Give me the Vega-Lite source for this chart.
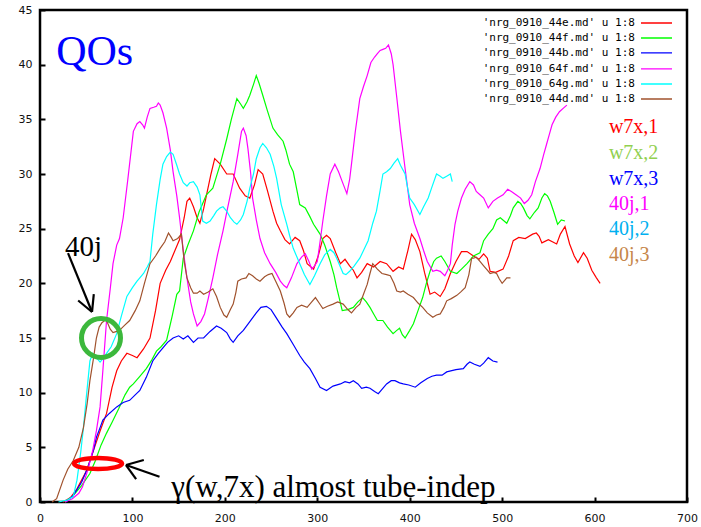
{
"$schema": "https://vega.github.io/schema/vega-lite/v6.json",
"width": 647, "height": 492,
"autosize": {"type": "none"},
"padding": {"left": 40, "top": 10, "right": 14, "bottom": 25},
"background": "white",
"config": {
  "view": {"stroke": "black", "strokeWidth": 2.5},
  "axis": {"domain": false, "grid": false, "ticks": true, "tickSize": -5, "tickWidth": 2, "tickColor": "black", "labelFont": "DejaVu Sans", "labelFontSize": 11, "labelColor": "#111111", "labelFlush": false, "labelOverlap": false}
},
"layer": [
  {
    "data": {"values": [
{"s":"nrg_0910_44e.md","x":25,"y":0},{"s":"nrg_0910_44e.md","x":33,"y":0.4},{"s":"nrg_0910_44e.md","x":40,"y":1.2},{"s":"nrg_0910_44e.md","x":50,"y":2.8},{"s":"nrg_0910_44e.md","x":57,"y":4.5},{"s":"nrg_0910_44e.md","x":65,"y":6.5},{"s":"nrg_0910_44e.md","x":72,"y":8.1},{"s":"nrg_0910_44e.md","x":78,"y":10.5},{"s":"nrg_0910_44e.md","x":83,"y":12},{"s":"nrg_0910_44e.md","x":88,"y":12.9},{"s":"nrg_0910_44e.md","x":94,"y":13.6},{"s":"nrg_0910_44e.md","x":100,"y":13.4},{"s":"nrg_0910_44e.md","x":105,"y":13.2},{"s":"nrg_0910_44e.md","x":112,"y":14},{"s":"nrg_0910_44e.md","x":119,"y":15},{"s":"nrg_0910_44e.md","x":125,"y":17.5},{"s":"nrg_0910_44e.md","x":130,"y":20},{"s":"nrg_0910_44e.md","x":136,"y":21.2},{"s":"nrg_0910_44e.md","x":141,"y":22},{"s":"nrg_0910_44e.md","x":146,"y":23},{"s":"nrg_0910_44e.md","x":151,"y":24},{"s":"nrg_0910_44e.md","x":156,"y":26},{"s":"nrg_0910_44e.md","x":159,"y":27.5},{"s":"nrg_0910_44e.md","x":162,"y":27.8},{"s":"nrg_0910_44e.md","x":166,"y":27},{"s":"nrg_0910_44e.md","x":170,"y":26},{"s":"nrg_0910_44e.md","x":173,"y":25.5},{"s":"nrg_0910_44e.md","x":177,"y":26.8},{"s":"nrg_0910_44e.md","x":181,"y":28.4},{"s":"nrg_0910_44e.md","x":185,"y":30},{"s":"nrg_0910_44e.md","x":189,"y":31.4},{"s":"nrg_0910_44e.md","x":195,"y":30.9},{"s":"nrg_0910_44e.md","x":202,"y":30},{"s":"nrg_0910_44e.md","x":209,"y":30},{"s":"nrg_0910_44e.md","x":216,"y":28.7},{"s":"nrg_0910_44e.md","x":222,"y":28},{"s":"nrg_0910_44e.md","x":227,"y":27.8},{"s":"nrg_0910_44e.md","x":232,"y":29},{"s":"nrg_0910_44e.md","x":236,"y":30.4},{"s":"nrg_0910_44e.md","x":241,"y":30},{"s":"nrg_0910_44e.md","x":246,"y":28.5},{"s":"nrg_0910_44e.md","x":252,"y":26.6},{"s":"nrg_0910_44e.md","x":256,"y":25.5},{"s":"nrg_0910_44e.md","x":260,"y":24.8},{"s":"nrg_0910_44e.md","x":265,"y":24},{"s":"nrg_0910_44e.md","x":270,"y":23.6},{"s":"nrg_0910_44e.md","x":276,"y":24.2},{"s":"nrg_0910_44e.md","x":281,"y":23.9},{"s":"nrg_0910_44e.md","x":285,"y":23},{"s":"nrg_0910_44e.md","x":289,"y":21.8},{"s":"nrg_0910_44e.md","x":296,"y":21.3},{"s":"nrg_0910_44e.md","x":301,"y":22.5},{"s":"nrg_0910_44e.md","x":306,"y":24.1},{"s":"nrg_0910_44e.md","x":310,"y":24.4},{"s":"nrg_0910_44e.md","x":314,"y":24.1},{"s":"nrg_0910_44e.md","x":320,"y":22.8},{"s":"nrg_0910_44e.md","x":325,"y":21.8},{"s":"nrg_0910_44e.md","x":330,"y":22.2},{"s":"nrg_0910_44e.md","x":335,"y":21.6},{"s":"nrg_0910_44e.md","x":339,"y":21.2},{"s":"nrg_0910_44e.md","x":343,"y":20.5},{"s":"nrg_0910_44e.md","x":348,"y":21},{"s":"nrg_0910_44e.md","x":354,"y":21.8},{"s":"nrg_0910_44e.md","x":361,"y":21.5},{"s":"nrg_0910_44e.md","x":368,"y":22},{"s":"nrg_0910_44e.md","x":375,"y":21.8},{"s":"nrg_0910_44e.md","x":382,"y":21.1},{"s":"nrg_0910_44e.md","x":388,"y":21.5},{"s":"nrg_0910_44e.md","x":393,"y":21.3},{"s":"nrg_0910_44e.md","x":398,"y":23},{"s":"nrg_0910_44e.md","x":402,"y":24.5},{"s":"nrg_0910_44e.md","x":406,"y":24},{"s":"nrg_0910_44e.md","x":411,"y":22.9},{"s":"nrg_0910_44e.md","x":416,"y":21},{"s":"nrg_0910_44e.md","x":422,"y":19},{"s":"nrg_0910_44e.md","x":427,"y":19.2},{"s":"nrg_0910_44e.md","x":433,"y":18.8},{"s":"nrg_0910_44e.md","x":438,"y":19.5},{"s":"nrg_0910_44e.md","x":444,"y":20.9},{"s":"nrg_0910_44e.md","x":450,"y":22},{"s":"nrg_0910_44e.md","x":456,"y":22.9},{"s":"nrg_0910_44e.md","x":462,"y":22.9},{"s":"nrg_0910_44e.md","x":469,"y":22.5},{"s":"nrg_0910_44e.md","x":475,"y":22.2},{"s":"nrg_0910_44e.md","x":480,"y":22.7},{"s":"nrg_0910_44e.md","x":484,"y":22.3},{"s":"nrg_0910_44e.md","x":487,"y":21.1},{"s":"nrg_0910_44e.md","x":493,"y":21},{"s":"nrg_0910_44e.md","x":501,"y":21.3},{"s":"nrg_0910_44e.md","x":507,"y":22.5},{"s":"nrg_0910_44e.md","x":512,"y":23.9},{"s":"nrg_0910_44e.md","x":518,"y":24.2},{"s":"nrg_0910_44e.md","x":525,"y":24.1},{"s":"nrg_0910_44e.md","x":533,"y":24.5},{"s":"nrg_0910_44e.md","x":537,"y":24.6},{"s":"nrg_0910_44e.md","x":540,"y":24.3},{"s":"nrg_0910_44e.md","x":543,"y":23.7},{"s":"nrg_0910_44e.md","x":550,"y":24},{"s":"nrg_0910_44e.md","x":559,"y":23.6},{"s":"nrg_0910_44e.md","x":563,"y":24.5},{"s":"nrg_0910_44e.md","x":568,"y":25.2},{"s":"nrg_0910_44e.md","x":573,"y":23.6},{"s":"nrg_0910_44e.md","x":578,"y":22.5},{"s":"nrg_0910_44e.md","x":582,"y":21.9},{"s":"nrg_0910_44e.md","x":588,"y":22.8},{"s":"nrg_0910_44e.md","x":592,"y":22.3},{"s":"nrg_0910_44e.md","x":597,"y":21.2},{"s":"nrg_0910_44e.md","x":602,"y":20.5},{"s":"nrg_0910_44e.md","x":606,"y":20},
{"s":"nrg_0910_44f.md","x":27,"y":0},{"s":"nrg_0910_44f.md","x":35,"y":0.5},{"s":"nrg_0910_44f.md","x":45,"y":1.5},{"s":"nrg_0910_44f.md","x":54,"y":2.6},{"s":"nrg_0910_44f.md","x":60,"y":3.8},{"s":"nrg_0910_44f.md","x":66,"y":5.2},{"s":"nrg_0910_44f.md","x":72,"y":6.3},{"s":"nrg_0910_44f.md","x":78,"y":7.3},{"s":"nrg_0910_44f.md","x":85,"y":8.5},{"s":"nrg_0910_44f.md","x":92,"y":9.8},{"s":"nrg_0910_44f.md","x":97,"y":10.5},{"s":"nrg_0910_44f.md","x":101,"y":10.8},{"s":"nrg_0910_44f.md","x":108,"y":11.5},{"s":"nrg_0910_44f.md","x":115,"y":12.2},{"s":"nrg_0910_44f.md","x":121,"y":13},{"s":"nrg_0910_44f.md","x":126,"y":13.8},{"s":"nrg_0910_44f.md","x":131,"y":14.2},{"s":"nrg_0910_44f.md","x":137,"y":14.8},{"s":"nrg_0910_44f.md","x":143,"y":17},{"s":"nrg_0910_44f.md","x":148,"y":19},{"s":"nrg_0910_44f.md","x":151,"y":19.3},{"s":"nrg_0910_44f.md","x":155,"y":22.3},{"s":"nrg_0910_44f.md","x":160,"y":23.5},{"s":"nrg_0910_44f.md","x":166,"y":24.8},{"s":"nrg_0910_44f.md","x":172,"y":26.5},{"s":"nrg_0910_44f.md","x":180,"y":28.1},{"s":"nrg_0910_44f.md","x":187,"y":28.7},{"s":"nrg_0910_44f.md","x":191,"y":29.8},{"s":"nrg_0910_44f.md","x":195,"y":30.9},{"s":"nrg_0910_44f.md","x":202,"y":33.2},{"s":"nrg_0910_44f.md","x":207,"y":35},{"s":"nrg_0910_44f.md","x":213,"y":36.9},{"s":"nrg_0910_44f.md","x":217,"y":36.4},{"s":"nrg_0910_44f.md","x":220,"y":36},{"s":"nrg_0910_44f.md","x":224,"y":36.6},{"s":"nrg_0910_44f.md","x":227,"y":37.2},{"s":"nrg_0910_44f.md","x":231,"y":38.2},{"s":"nrg_0910_44f.md","x":234,"y":39},{"s":"nrg_0910_44f.md","x":237,"y":38.3},{"s":"nrg_0910_44f.md","x":241,"y":37.2},{"s":"nrg_0910_44f.md","x":246,"y":35.8},{"s":"nrg_0910_44f.md","x":252,"y":34.2},{"s":"nrg_0910_44f.md","x":257,"y":33.6},{"s":"nrg_0910_44f.md","x":263,"y":33},{"s":"nrg_0910_44f.md","x":266,"y":32.2},{"s":"nrg_0910_44f.md","x":270,"y":30.9},{"s":"nrg_0910_44f.md","x":274,"y":30.2},{"s":"nrg_0910_44f.md","x":278,"y":28.5},{"s":"nrg_0910_44f.md","x":281,"y":27.2},{"s":"nrg_0910_44f.md","x":287,"y":26.9},{"s":"nrg_0910_44f.md","x":292,"y":26.1},{"s":"nrg_0910_44f.md","x":296,"y":25.4},{"s":"nrg_0910_44f.md","x":303,"y":24.5},{"s":"nrg_0910_44f.md","x":308,"y":23.5},{"s":"nrg_0910_44f.md","x":314,"y":22},{"s":"nrg_0910_44f.md","x":318,"y":20.8},{"s":"nrg_0910_44f.md","x":321,"y":19.6},{"s":"nrg_0910_44f.md","x":327,"y":17.5},{"s":"nrg_0910_44f.md","x":333,"y":17.6},{"s":"nrg_0910_44f.md","x":339,"y":17.8},{"s":"nrg_0910_44f.md","x":344,"y":18.3},{"s":"nrg_0910_44f.md","x":349,"y":18.7},{"s":"nrg_0910_44f.md","x":353,"y":18.3},{"s":"nrg_0910_44f.md","x":357,"y":17.8},{"s":"nrg_0910_44f.md","x":361,"y":17.2},{"s":"nrg_0910_44f.md","x":365,"y":16.6},{"s":"nrg_0910_44f.md","x":371,"y":16.6},{"s":"nrg_0910_44f.md","x":376,"y":16},{"s":"nrg_0910_44f.md","x":382,"y":15.4},{"s":"nrg_0910_44f.md","x":386,"y":15.7},{"s":"nrg_0910_44f.md","x":389,"y":15.9},{"s":"nrg_0910_44f.md","x":392,"y":15.3},{"s":"nrg_0910_44f.md","x":395,"y":15},{"s":"nrg_0910_44f.md","x":400,"y":15.7},{"s":"nrg_0910_44f.md","x":404,"y":16.3},{"s":"nrg_0910_44f.md","x":409,"y":17.5},{"s":"nrg_0910_44f.md","x":414,"y":18.7},{"s":"nrg_0910_44f.md","x":418,"y":20},{"s":"nrg_0910_44f.md","x":422,"y":21.1},{"s":"nrg_0910_44f.md","x":426,"y":22},{"s":"nrg_0910_44f.md","x":429,"y":22.3},{"s":"nrg_0910_44f.md","x":434,"y":22.5},{"s":"nrg_0910_44f.md","x":438,"y":22},{"s":"nrg_0910_44f.md","x":444,"y":21.1},{"s":"nrg_0910_44f.md","x":451,"y":20.9},{"s":"nrg_0910_44f.md","x":456,"y":21.3},{"s":"nrg_0910_44f.md","x":462,"y":21.8},{"s":"nrg_0910_44f.md","x":469,"y":22.5},{"s":"nrg_0910_44f.md","x":476,"y":22.8},{"s":"nrg_0910_44f.md","x":480,"y":23.9},{"s":"nrg_0910_44f.md","x":485,"y":24.5},{"s":"nrg_0910_44f.md","x":490,"y":25},{"s":"nrg_0910_44f.md","x":494,"y":25.8},{"s":"nrg_0910_44f.md","x":498,"y":26},{"s":"nrg_0910_44f.md","x":505,"y":25.5},{"s":"nrg_0910_44f.md","x":509,"y":26.2},{"s":"nrg_0910_44f.md","x":512,"y":26.9},{"s":"nrg_0910_44f.md","x":517,"y":27.5},{"s":"nrg_0910_44f.md","x":520,"y":27.3},{"s":"nrg_0910_44f.md","x":523,"y":26.9},{"s":"nrg_0910_44f.md","x":527,"y":26.2},{"s":"nrg_0910_44f.md","x":530,"y":25.9},{"s":"nrg_0910_44f.md","x":535,"y":26.5},{"s":"nrg_0910_44f.md","x":539,"y":26.9},{"s":"nrg_0910_44f.md","x":543,"y":27.8},{"s":"nrg_0910_44f.md","x":546,"y":28.2},{"s":"nrg_0910_44f.md","x":549,"y":28},{"s":"nrg_0910_44f.md","x":552,"y":27.5},{"s":"nrg_0910_44f.md","x":556,"y":26.5},{"s":"nrg_0910_44f.md","x":560,"y":25.4},{"s":"nrg_0910_44f.md","x":564,"y":25.8},{"s":"nrg_0910_44f.md","x":568,"y":25.7},
{"s":"nrg_0910_44b.md","x":28,"y":0},{"s":"nrg_0910_44b.md","x":36,"y":0.6},{"s":"nrg_0910_44b.md","x":45,"y":1.8},{"s":"nrg_0910_44b.md","x":52,"y":3.2},{"s":"nrg_0910_44b.md","x":58,"y":4.8},{"s":"nrg_0910_44b.md","x":61,"y":5.9},{"s":"nrg_0910_44b.md","x":65,"y":6.8},{"s":"nrg_0910_44b.md","x":68,"y":7.5},{"s":"nrg_0910_44b.md","x":75,"y":8.1},{"s":"nrg_0910_44b.md","x":83,"y":8.7},{"s":"nrg_0910_44b.md","x":90,"y":9.1},{"s":"nrg_0910_44b.md","x":97,"y":9.3},{"s":"nrg_0910_44b.md","x":103,"y":9.8},{"s":"nrg_0910_44b.md","x":108,"y":10.2},{"s":"nrg_0910_44b.md","x":115,"y":11.4},{"s":"nrg_0910_44b.md","x":122,"y":12.9},{"s":"nrg_0910_44b.md","x":128,"y":13.6},{"s":"nrg_0910_44b.md","x":133,"y":14.1},{"s":"nrg_0910_44b.md","x":138,"y":14.6},{"s":"nrg_0910_44b.md","x":144,"y":15},{"s":"nrg_0910_44b.md","x":150,"y":15.2},{"s":"nrg_0910_44b.md","x":155,"y":14.9},{"s":"nrg_0910_44b.md","x":160,"y":15.2},{"s":"nrg_0910_44b.md","x":166,"y":14.6},{"s":"nrg_0910_44b.md","x":171,"y":15},{"s":"nrg_0910_44b.md","x":177,"y":15},{"s":"nrg_0910_44b.md","x":184,"y":15.6},{"s":"nrg_0910_44b.md","x":191,"y":16.1},{"s":"nrg_0910_44b.md","x":196,"y":15.9},{"s":"nrg_0910_44b.md","x":202,"y":15.5},{"s":"nrg_0910_44b.md","x":206,"y":14.9},{"s":"nrg_0910_44b.md","x":209,"y":14.6},{"s":"nrg_0910_44b.md","x":214,"y":15.2},{"s":"nrg_0910_44b.md","x":220,"y":15.7},{"s":"nrg_0910_44b.md","x":227,"y":16.5},{"s":"nrg_0910_44b.md","x":234,"y":17.3},{"s":"nrg_0910_44b.md","x":239,"y":17.8},{"s":"nrg_0910_44b.md","x":245,"y":17.9},{"s":"nrg_0910_44b.md","x":250,"y":17.6},{"s":"nrg_0910_44b.md","x":256,"y":16.8},{"s":"nrg_0910_44b.md","x":262,"y":16},{"s":"nrg_0910_44b.md","x":267,"y":15.4},{"s":"nrg_0910_44b.md","x":274,"y":14.4},{"s":"nrg_0910_44b.md","x":281,"y":13.4},{"s":"nrg_0910_44b.md","x":286,"y":12.8},{"s":"nrg_0910_44b.md","x":292,"y":12.2},{"s":"nrg_0910_44b.md","x":298,"y":11.3},{"s":"nrg_0910_44b.md","x":303,"y":10.5},{"s":"nrg_0910_44b.md","x":310,"y":10.2},{"s":"nrg_0910_44b.md","x":317,"y":10.6},{"s":"nrg_0910_44b.md","x":325,"y":10.8},{"s":"nrg_0910_44b.md","x":330,"y":11},{"s":"nrg_0910_44b.md","x":335,"y":10.9},{"s":"nrg_0910_44b.md","x":339,"y":11.1},{"s":"nrg_0910_44b.md","x":344,"y":10.8},{"s":"nrg_0910_44b.md","x":348,"y":10.4},{"s":"nrg_0910_44b.md","x":353,"y":10.5},{"s":"nrg_0910_44b.md","x":357,"y":10.4},{"s":"nrg_0910_44b.md","x":362,"y":10.1},{"s":"nrg_0910_44b.md","x":366,"y":9.9},{"s":"nrg_0910_44b.md","x":370,"y":10.3},{"s":"nrg_0910_44b.md","x":375,"y":10.8},{"s":"nrg_0910_44b.md","x":380,"y":11.1},{"s":"nrg_0910_44b.md","x":384,"y":11.1},{"s":"nrg_0910_44b.md","x":389,"y":10.9},{"s":"nrg_0910_44b.md","x":393,"y":10.8},{"s":"nrg_0910_44b.md","x":399,"y":10.7},{"s":"nrg_0910_44b.md","x":406,"y":10.5},{"s":"nrg_0910_44b.md","x":412,"y":10.9},{"s":"nrg_0910_44b.md","x":419,"y":11.3},{"s":"nrg_0910_44b.md","x":424,"y":11.5},{"s":"nrg_0910_44b.md","x":429,"y":11.6},{"s":"nrg_0910_44b.md","x":435,"y":11.6},{"s":"nrg_0910_44b.md","x":440,"y":11.9},{"s":"nrg_0910_44b.md","x":450,"y":12.1},{"s":"nrg_0910_44b.md","x":458,"y":12.2},{"s":"nrg_0910_44b.md","x":462,"y":12.6},{"s":"nrg_0910_44b.md","x":465,"y":12.8},{"s":"nrg_0910_44b.md","x":470,"y":12.6},{"s":"nrg_0910_44b.md","x":476,"y":12.4},{"s":"nrg_0910_44b.md","x":480,"y":12.7},{"s":"nrg_0910_44b.md","x":485,"y":13.2},{"s":"nrg_0910_44b.md","x":490,"y":12.9},{"s":"nrg_0910_44b.md","x":495,"y":12.8},
{"s":"nrg_0910_64f.md","x":27,"y":0},{"s":"nrg_0910_64f.md","x":35,"y":0.3},{"s":"nrg_0910_64f.md","x":42,"y":0.8},{"s":"nrg_0910_64f.md","x":46,"y":1.4},{"s":"nrg_0910_64f.md","x":52,"y":3},{"s":"nrg_0910_64f.md","x":57,"y":4.7},{"s":"nrg_0910_64f.md","x":61,"y":6.5},{"s":"nrg_0910_64f.md","x":65,"y":8.7},{"s":"nrg_0910_64f.md","x":68,"y":12},{"s":"nrg_0910_64f.md","x":72,"y":16.6},{"s":"nrg_0910_64f.md","x":76,"y":19.5},{"s":"nrg_0910_64f.md","x":79,"y":21.8},{"s":"nrg_0910_64f.md","x":83,"y":23.5},{"s":"nrg_0910_64f.md","x":86,"y":24.1},{"s":"nrg_0910_64f.md","x":90,"y":26},{"s":"nrg_0910_64f.md","x":95,"y":29.5},{"s":"nrg_0910_64f.md","x":101,"y":33.9},{"s":"nrg_0910_64f.md","x":105,"y":34.6},{"s":"nrg_0910_64f.md","x":108,"y":34.8},{"s":"nrg_0910_64f.md","x":111,"y":34.5},{"s":"nrg_0910_64f.md","x":113,"y":34.2},{"s":"nrg_0910_64f.md","x":116,"y":35.2},{"s":"nrg_0910_64f.md","x":119,"y":36},{"s":"nrg_0910_64f.md","x":123,"y":36.1},{"s":"nrg_0910_64f.md","x":126,"y":36.2},{"s":"nrg_0910_64f.md","x":128,"y":36.5},{"s":"nrg_0910_64f.md","x":130,"y":36.3},{"s":"nrg_0910_64f.md","x":133,"y":35.6},{"s":"nrg_0910_64f.md","x":137,"y":34.2},{"s":"nrg_0910_64f.md","x":141,"y":32.2},{"s":"nrg_0910_64f.md","x":144,"y":30.2},{"s":"nrg_0910_64f.md","x":148,"y":28},{"s":"nrg_0910_64f.md","x":151,"y":26},{"s":"nrg_0910_64f.md","x":155,"y":23},{"s":"nrg_0910_64f.md","x":159,"y":20.5},{"s":"nrg_0910_64f.md","x":163,"y":18.3},{"s":"nrg_0910_64f.md","x":166,"y":17.2},{"s":"nrg_0910_64f.md","x":170,"y":16.1},{"s":"nrg_0910_64f.md","x":174,"y":16.5},{"s":"nrg_0910_64f.md","x":178,"y":17.2},{"s":"nrg_0910_64f.md","x":182,"y":18.6},{"s":"nrg_0910_64f.md","x":187,"y":20.5},{"s":"nrg_0910_64f.md","x":192,"y":22.6},{"s":"nrg_0910_64f.md","x":198,"y":24.8},{"s":"nrg_0910_64f.md","x":203,"y":26.9},{"s":"nrg_0910_64f.md","x":209,"y":29.3},{"s":"nrg_0910_64f.md","x":214,"y":31.8},{"s":"nrg_0910_64f.md","x":218,"y":33.9},{"s":"nrg_0910_64f.md","x":220,"y":34.2},{"s":"nrg_0910_64f.md","x":223,"y":33.5},{"s":"nrg_0910_64f.md","x":225,"y":32.3},{"s":"nrg_0910_64f.md","x":228,"y":30},{"s":"nrg_0910_64f.md","x":230,"y":27.8},{"s":"nrg_0910_64f.md","x":234,"y":25.8},{"s":"nrg_0910_64f.md","x":238,"y":24.1},{"s":"nrg_0910_64f.md","x":243,"y":22.8},{"s":"nrg_0910_64f.md","x":249,"y":21.8},{"s":"nrg_0910_64f.md","x":255,"y":21},{"s":"nrg_0910_64f.md","x":260,"y":20.2},{"s":"nrg_0910_64f.md","x":264,"y":19.8},{"s":"nrg_0910_64f.md","x":267,"y":19.6},{"s":"nrg_0910_64f.md","x":272,"y":20.5},{"s":"nrg_0910_64f.md","x":278,"y":21.8},{"s":"nrg_0910_64f.md","x":283,"y":22.4},{"s":"nrg_0910_64f.md","x":287,"y":22.7},{"s":"nrg_0910_64f.md","x":291,"y":22},{"s":"nrg_0910_64f.md","x":294,"y":21.3},{"s":"nrg_0910_64f.md","x":297,"y":21.6},{"s":"nrg_0910_64f.md","x":300,"y":22},{"s":"nrg_0910_64f.md","x":303,"y":23.8},{"s":"nrg_0910_64f.md","x":306,"y":25.7},{"s":"nrg_0910_64f.md","x":310,"y":28},{"s":"nrg_0910_64f.md","x":314,"y":30},{"s":"nrg_0910_64f.md","x":319,"y":30.9},{"s":"nrg_0910_64f.md","x":323,"y":30.2},{"s":"nrg_0910_64f.md","x":327,"y":29.3},{"s":"nrg_0910_64f.md","x":332,"y":28.2},{"s":"nrg_0910_64f.md","x":335,"y":29.5},{"s":"nrg_0910_64f.md","x":337,"y":30.9},{"s":"nrg_0910_64f.md","x":341,"y":33.8},{"s":"nrg_0910_64f.md","x":346,"y":36.9},{"s":"nrg_0910_64f.md","x":350,"y":38},{"s":"nrg_0910_64f.md","x":354,"y":39},{"s":"nrg_0910_64f.md","x":358,"y":40.2},{"s":"nrg_0910_64f.md","x":362,"y":40.7},{"s":"nrg_0910_64f.md","x":365,"y":41},{"s":"nrg_0910_64f.md","x":368,"y":41.3},{"s":"nrg_0910_64f.md","x":371,"y":41.4},{"s":"nrg_0910_64f.md","x":374,"y":41.5},{"s":"nrg_0910_64f.md","x":377,"y":41.8},{"s":"nrg_0910_64f.md","x":380,"y":41},{"s":"nrg_0910_64f.md","x":382,"y":40},{"s":"nrg_0910_64f.md","x":386,"y":37},{"s":"nrg_0910_64f.md","x":390,"y":33.9},{"s":"nrg_0910_64f.md","x":395,"y":30.5},{"s":"nrg_0910_64f.md","x":400,"y":27.2},{"s":"nrg_0910_64f.md","x":405,"y":25.5},{"s":"nrg_0910_64f.md","x":411,"y":24.1},{"s":"nrg_0910_64f.md","x":415,"y":23},{"s":"nrg_0910_64f.md","x":419,"y":22},{"s":"nrg_0910_64f.md","x":425,"y":21.1},{"s":"nrg_0910_64f.md","x":429,"y":21.2},{"s":"nrg_0910_64f.md","x":433,"y":21.1},{"s":"nrg_0910_64f.md","x":438,"y":20.7},{"s":"nrg_0910_64f.md","x":441,"y":21.2},{"s":"nrg_0910_64f.md","x":444,"y":21.8},{"s":"nrg_0910_64f.md","x":446,"y":23.5},{"s":"nrg_0910_64f.md","x":449,"y":25.4},{"s":"nrg_0910_64f.md","x":452,"y":26.6},{"s":"nrg_0910_64f.md","x":456,"y":27.8},{"s":"nrg_0910_64f.md","x":460,"y":28.6},{"s":"nrg_0910_64f.md","x":465,"y":29.3},{"s":"nrg_0910_64f.md","x":469,"y":29},{"s":"nrg_0910_64f.md","x":472,"y":28.4},{"s":"nrg_0910_64f.md","x":476,"y":28.1},{"s":"nrg_0910_64f.md","x":480,"y":27.8},{"s":"nrg_0910_64f.md","x":485,"y":26.9},{"s":"nrg_0910_64f.md","x":490,"y":27.5},{"s":"nrg_0910_64f.md","x":495,"y":27.8},{"s":"nrg_0910_64f.md","x":501,"y":28.1},{"s":"nrg_0910_64f.md","x":506,"y":28.6},{"s":"nrg_0910_64f.md","x":510,"y":28.4},{"s":"nrg_0910_64f.md","x":515,"y":28.1},{"s":"nrg_0910_64f.md","x":520,"y":27.8},{"s":"nrg_0910_64f.md","x":524,"y":27.3},{"s":"nrg_0910_64f.md","x":528,"y":27.6},{"s":"nrg_0910_64f.md","x":532,"y":28.1},{"s":"nrg_0910_64f.md","x":536,"y":29.3},{"s":"nrg_0910_64f.md","x":541,"y":30.5},{"s":"nrg_0910_64f.md","x":545,"y":31.8},{"s":"nrg_0910_64f.md","x":548,"y":32.7},{"s":"nrg_0910_64f.md","x":551,"y":33.6},{"s":"nrg_0910_64f.md","x":554,"y":34.5},{"s":"nrg_0910_64f.md","x":558,"y":35.2},{"s":"nrg_0910_64f.md","x":562,"y":35.7},{"s":"nrg_0910_64f.md","x":566,"y":36},{"s":"nrg_0910_64f.md","x":570,"y":36.3},
{"s":"nrg_0910_64g.md","x":20,"y":0},{"s":"nrg_0910_64g.md","x":30,"y":0.2},{"s":"nrg_0910_64g.md","x":36,"y":0.5},{"s":"nrg_0910_64g.md","x":40,"y":2},{"s":"nrg_0910_64g.md","x":44,"y":4.5},{"s":"nrg_0910_64g.md","x":47,"y":6.8},{"s":"nrg_0910_64g.md","x":50,"y":9.5},{"s":"nrg_0910_64g.md","x":54,"y":12.9},{"s":"nrg_0910_64g.md","x":57,"y":13.6},{"s":"nrg_0910_64g.md","x":61,"y":13.2},{"s":"nrg_0910_64g.md","x":65,"y":12.8},{"s":"nrg_0910_64g.md","x":69,"y":13.2},{"s":"nrg_0910_64g.md","x":72,"y":13.6},{"s":"nrg_0910_64g.md","x":77,"y":14.2},{"s":"nrg_0910_64g.md","x":83,"y":15.4},{"s":"nrg_0910_64g.md","x":88,"y":17},{"s":"nrg_0910_64g.md","x":94,"y":18.8},{"s":"nrg_0910_64g.md","x":100,"y":19.6},{"s":"nrg_0910_64g.md","x":105,"y":20.2},{"s":"nrg_0910_64g.md","x":108,"y":20.5},{"s":"nrg_0910_64g.md","x":112,"y":20.9},{"s":"nrg_0910_64g.md","x":116,"y":21.5},{"s":"nrg_0910_64g.md","x":119,"y":22},{"s":"nrg_0910_64g.md","x":122,"y":24.5},{"s":"nrg_0910_64g.md","x":126,"y":27.2},{"s":"nrg_0910_64g.md","x":130,"y":29.5},{"s":"nrg_0910_64g.md","x":133,"y":30.9},{"s":"nrg_0910_64g.md","x":137,"y":31.6},{"s":"nrg_0910_64g.md","x":141,"y":32},{"s":"nrg_0910_64g.md","x":144,"y":31.8},{"s":"nrg_0910_64g.md","x":148,"y":30.8},{"s":"nrg_0910_64g.md","x":151,"y":30},{"s":"nrg_0910_64g.md","x":155,"y":29.2},{"s":"nrg_0910_64g.md","x":159,"y":28.9},{"s":"nrg_0910_64g.md","x":162,"y":29.2},{"s":"nrg_0910_64g.md","x":166,"y":29.3},{"s":"nrg_0910_64g.md","x":170,"y":28.8},{"s":"nrg_0910_64g.md","x":173,"y":28.1},{"s":"nrg_0910_64g.md","x":176,"y":25.7},{"s":"nrg_0910_64g.md","x":180,"y":25.5},{"s":"nrg_0910_64g.md","x":184,"y":25.7},{"s":"nrg_0910_64g.md","x":188,"y":26.2},{"s":"nrg_0910_64g.md","x":191,"y":26.6},{"s":"nrg_0910_64g.md","x":195,"y":26.9},{"s":"nrg_0910_64g.md","x":198,"y":27},{"s":"nrg_0910_64g.md","x":202,"y":26.6},{"s":"nrg_0910_64g.md","x":206,"y":26},{"s":"nrg_0910_64g.md","x":210,"y":25.6},{"s":"nrg_0910_64g.md","x":213,"y":25.4},{"s":"nrg_0910_64g.md","x":217,"y":25.8},{"s":"nrg_0910_64g.md","x":220,"y":26.3},{"s":"nrg_0910_64g.md","x":224,"y":27.5},{"s":"nrg_0910_64g.md","x":227,"y":28.7},{"s":"nrg_0910_64g.md","x":231,"y":30},{"s":"nrg_0910_64g.md","x":234,"y":31.4},{"s":"nrg_0910_64g.md","x":238,"y":32.4},{"s":"nrg_0910_64g.md","x":241,"y":32.8},{"s":"nrg_0910_64g.md","x":245,"y":32.4},{"s":"nrg_0910_64g.md","x":249,"y":31.8},{"s":"nrg_0910_64g.md","x":253,"y":30.7},{"s":"nrg_0910_64g.md","x":256,"y":29.6},{"s":"nrg_0910_64g.md","x":261,"y":27.2},{"s":"nrg_0910_64g.md","x":267,"y":25.4},{"s":"nrg_0910_64g.md","x":270,"y":24.4},{"s":"nrg_0910_64g.md","x":274,"y":23.2},{"s":"nrg_0910_64g.md","x":278,"y":22.4},{"s":"nrg_0910_64g.md","x":281,"y":21.8},{"s":"nrg_0910_64g.md","x":286,"y":20.8},{"s":"nrg_0910_64g.md","x":292,"y":19.9},{"s":"nrg_0910_64g.md","x":297,"y":20.7},{"s":"nrg_0910_64g.md","x":303,"y":21.8},{"s":"nrg_0910_64g.md","x":308,"y":22.6},{"s":"nrg_0910_64g.md","x":314,"y":23.1},{"s":"nrg_0910_64g.md","x":318,"y":22.8},{"s":"nrg_0910_64g.md","x":321,"y":22.3},{"s":"nrg_0910_64g.md","x":325,"y":21.5},{"s":"nrg_0910_64g.md","x":328,"y":20.9},{"s":"nrg_0910_64g.md","x":331,"y":20.8},{"s":"nrg_0910_64g.md","x":335,"y":21.1},{"s":"nrg_0910_64g.md","x":340,"y":21.6},{"s":"nrg_0910_64g.md","x":346,"y":22.3},{"s":"nrg_0910_64g.md","x":350,"y":23},{"s":"nrg_0910_64g.md","x":355,"y":23.9},{"s":"nrg_0910_64g.md","x":360,"y":25.5},{"s":"nrg_0910_64g.md","x":364,"y":26.6},{"s":"nrg_0910_64g.md","x":368,"y":28.5},{"s":"nrg_0910_64g.md","x":371,"y":30},{"s":"nrg_0910_64g.md","x":375,"y":30.2},{"s":"nrg_0910_64g.md","x":379,"y":30.5},{"s":"nrg_0910_64g.md","x":383,"y":31},{"s":"nrg_0910_64g.md","x":387,"y":31.4},{"s":"nrg_0910_64g.md","x":390,"y":30.8},{"s":"nrg_0910_64g.md","x":395,"y":30},{"s":"nrg_0910_64g.md","x":398,"y":28.6},{"s":"nrg_0910_64g.md","x":400,"y":27.8},{"s":"nrg_0910_64g.md","x":405,"y":27.2},{"s":"nrg_0910_64g.md","x":411,"y":26.3},{"s":"nrg_0910_64g.md","x":415,"y":27},{"s":"nrg_0910_64g.md","x":420,"y":27.8},{"s":"nrg_0910_64g.md","x":424,"y":28.8},{"s":"nrg_0910_64g.md","x":429,"y":30},{"s":"nrg_0910_64g.md","x":433,"y":29.8},{"s":"nrg_0910_64g.md","x":436,"y":29.6},{"s":"nrg_0910_64g.md","x":440,"y":29.8},{"s":"nrg_0910_64g.md","x":444,"y":30},{"s":"nrg_0910_64g.md","x":446,"y":29.3},
{"s":"nrg_0910_44d.md","x":13,"y":0},{"s":"nrg_0910_44d.md","x":18,"y":0.3},{"s":"nrg_0910_44d.md","x":25,"y":2},{"s":"nrg_0910_44d.md","x":30,"y":3},{"s":"nrg_0910_44d.md","x":36,"y":3.8},{"s":"nrg_0910_44d.md","x":42,"y":5},{"s":"nrg_0910_44d.md","x":47,"y":6.8},{"s":"nrg_0910_44d.md","x":51,"y":9},{"s":"nrg_0910_44d.md","x":54,"y":11.1},{"s":"nrg_0910_44d.md","x":58,"y":13.2},{"s":"nrg_0910_44d.md","x":61,"y":15},{"s":"nrg_0910_44d.md","x":64,"y":16},{"s":"nrg_0910_44d.md","x":67,"y":16.4},{"s":"nrg_0910_44d.md","x":70,"y":16.6},{"s":"nrg_0910_44d.md","x":72,"y":16.6},{"s":"nrg_0910_44d.md","x":76,"y":15.8},{"s":"nrg_0910_44d.md","x":79,"y":15.5},{"s":"nrg_0910_44d.md","x":83,"y":15.6},{"s":"nrg_0910_44d.md","x":86,"y":15.7},{"s":"nrg_0910_44d.md","x":92,"y":16.2},{"s":"nrg_0910_44d.md","x":97,"y":16.6},{"s":"nrg_0910_44d.md","x":103,"y":17.5},{"s":"nrg_0910_44d.md","x":108,"y":18.4},{"s":"nrg_0910_44d.md","x":113,"y":20},{"s":"nrg_0910_44d.md","x":119,"y":21.8},{"s":"nrg_0910_44d.md","x":125,"y":22.5},{"s":"nrg_0910_44d.md","x":130,"y":23.2},{"s":"nrg_0910_44d.md","x":135,"y":23.8},{"s":"nrg_0910_44d.md","x":139,"y":24.6},{"s":"nrg_0910_44d.md","x":142,"y":24.2},{"s":"nrg_0910_44d.md","x":144,"y":23.9},{"s":"nrg_0910_44d.md","x":149,"y":24.1},{"s":"nrg_0910_44d.md","x":153,"y":24.5},{"s":"nrg_0910_44d.md","x":156,"y":22},{"s":"nrg_0910_44d.md","x":159,"y":20.5},{"s":"nrg_0910_44d.md","x":163,"y":19.6},{"s":"nrg_0910_44d.md","x":166,"y":19.1},{"s":"nrg_0910_44d.md","x":170,"y":19.1},{"s":"nrg_0910_44d.md","x":173,"y":19.3},{"s":"nrg_0910_44d.md","x":177,"y":19},{"s":"nrg_0910_44d.md","x":182,"y":19.2},{"s":"nrg_0910_44d.md","x":187,"y":19.5},{"s":"nrg_0910_44d.md","x":191,"y":18.8},{"s":"nrg_0910_44d.md","x":195,"y":17.8},{"s":"nrg_0910_44d.md","x":199,"y":17.1},{"s":"nrg_0910_44d.md","x":202,"y":16.9},{"s":"nrg_0910_44d.md","x":206,"y":17.6},{"s":"nrg_0910_44d.md","x":209,"y":18.1},{"s":"nrg_0910_44d.md","x":212,"y":19.2},{"s":"nrg_0910_44d.md","x":214,"y":20.2},{"s":"nrg_0910_44d.md","x":218,"y":20.4},{"s":"nrg_0910_44d.md","x":223,"y":20.5},{"s":"nrg_0910_44d.md","x":226,"y":20.9},{"s":"nrg_0910_44d.md","x":230,"y":20.7},{"s":"nrg_0910_44d.md","x":234,"y":20.4},{"s":"nrg_0910_44d.md","x":238,"y":20.2},{"s":"nrg_0910_44d.md","x":243,"y":20.6},{"s":"nrg_0910_44d.md","x":247,"y":20.8},{"s":"nrg_0910_44d.md","x":251,"y":20.9},{"s":"nrg_0910_44d.md","x":255,"y":20.2},{"s":"nrg_0910_44d.md","x":260,"y":19.3},{"s":"nrg_0910_44d.md","x":264,"y":18.2},{"s":"nrg_0910_44d.md","x":267,"y":17.2},{"s":"nrg_0910_44d.md","x":270,"y":16.9},{"s":"nrg_0910_44d.md","x":274,"y":17.3},{"s":"nrg_0910_44d.md","x":278,"y":17.8},{"s":"nrg_0910_44d.md","x":283,"y":18},{"s":"nrg_0910_44d.md","x":289,"y":17.8},{"s":"nrg_0910_44d.md","x":294,"y":18.3},{"s":"nrg_0910_44d.md","x":298,"y":18.7},{"s":"nrg_0910_44d.md","x":302,"y":18.2},{"s":"nrg_0910_44d.md","x":306,"y":17.7},{"s":"nrg_0910_44d.md","x":311,"y":17.9},{"s":"nrg_0910_44d.md","x":317,"y":18.1},{"s":"nrg_0910_44d.md","x":322,"y":18.3},{"s":"nrg_0910_44d.md","x":328,"y":18.1},{"s":"nrg_0910_44d.md","x":333,"y":17.6},{"s":"nrg_0910_44d.md","x":337,"y":17.3},{"s":"nrg_0910_44d.md","x":342,"y":17.8},{"s":"nrg_0910_44d.md","x":346,"y":18.1},{"s":"nrg_0910_44d.md","x":350,"y":19},{"s":"nrg_0910_44d.md","x":354,"y":19.9},{"s":"nrg_0910_44d.md","x":357,"y":20.9},{"s":"nrg_0910_44d.md","x":360,"y":21.8},{"s":"nrg_0910_44d.md","x":365,"y":21.3},{"s":"nrg_0910_44d.md","x":370,"y":20.9},{"s":"nrg_0910_44d.md","x":375,"y":20.8},{"s":"nrg_0910_44d.md","x":379,"y":20.7},{"s":"nrg_0910_44d.md","x":383,"y":20},{"s":"nrg_0910_44d.md","x":386,"y":19.3},{"s":"nrg_0910_44d.md","x":390,"y":19.2},{"s":"nrg_0910_44d.md","x":393,"y":19.3},{"s":"nrg_0910_44d.md","x":398,"y":19},{"s":"nrg_0910_44d.md","x":404,"y":18.7},{"s":"nrg_0910_44d.md","x":409,"y":18.2},{"s":"nrg_0910_44d.md","x":414,"y":17.8},{"s":"nrg_0910_44d.md","x":419,"y":17.3},{"s":"nrg_0910_44d.md","x":425,"y":16.9},{"s":"nrg_0910_44d.md","x":429,"y":17.1},{"s":"nrg_0910_44d.md","x":433,"y":17.2},{"s":"nrg_0910_44d.md","x":437,"y":17.8},{"s":"nrg_0910_44d.md","x":440,"y":18.4},{"s":"nrg_0910_44d.md","x":445,"y":18.6},{"s":"nrg_0910_44d.md","x":451,"y":18.9},{"s":"nrg_0910_44d.md","x":455,"y":19.2},{"s":"nrg_0910_44d.md","x":460,"y":19.6},{"s":"nrg_0910_44d.md","x":464,"y":20.8},{"s":"nrg_0910_44d.md","x":467,"y":22.3},{"s":"nrg_0910_44d.md","x":469,"y":22.3},{"s":"nrg_0910_44d.md","x":472,"y":22.4},{"s":"nrg_0910_44d.md","x":476,"y":22},{"s":"nrg_0910_44d.md","x":480,"y":21.6},{"s":"nrg_0910_44d.md","x":484,"y":21.2},{"s":"nrg_0910_44d.md","x":487,"y":20.9},{"s":"nrg_0910_44d.md","x":491,"y":21},{"s":"nrg_0910_44d.md","x":494,"y":20.9},{"s":"nrg_0910_44d.md","x":497,"y":20.4},{"s":"nrg_0910_44d.md","x":500,"y":20},{"s":"nrg_0910_44d.md","x":503,"y":20.3},{"s":"nrg_0910_44d.md","x":505,"y":20.5},{"s":"nrg_0910_44d.md","x":509,"y":20.5}
    ]},
    "mark": {"type": "line", "strokeWidth": 1.2},
    "encoding": {
      "x": {"field": "x", "type": "quantitative", "title": null, "scale": {"domain": [0, 700], "nice": false, "zero": false},
            "axis": {"orient": "bottom", "values": [0,100,200,300,400,500,600,700], "labelPadding": 15}},
      "y": {"field": "y", "type": "quantitative", "title": null, "scale": {"domain": [0, 45], "nice": false, "zero": false},
            "axis": {"orient": "left", "values": [0,5,10,15,20,25,30,35,40,45], "labelPadding": 13}},
      "color": {"field": "s", "type": "nominal", "legend": null,
        "scale": {"domain": ["nrg_0910_44e.md","nrg_0910_44f.md","nrg_0910_44b.md","nrg_0910_64f.md","nrg_0910_64g.md","nrg_0910_44d.md"],
                  "range": ["#ff0000","#00ff00","#0000ff","#ff00ff","#00ffff","#a0522d"]}}
    }
  },
  {
    "data": {"values": [
      {"s": "nrg_0910_44e.md", "label": "'nrg_0910_44e.md' u 1:8", "x": 643.7, "x1": 650.2, "x2": 683.8, "y": 43.81},
      {"s": "nrg_0910_44f.md", "label": "'nrg_0910_44f.md' u 1:8", "x": 643.7, "x1": 650.2, "x2": 683.8, "y": 42.44},
      {"s": "nrg_0910_44b.md", "label": "'nrg_0910_44b.md' u 1:8", "x": 643.7, "x1": 650.2, "x2": 683.8, "y": 41.07},
      {"s": "nrg_0910_64f.md", "label": "'nrg_0910_64f.md' u 1:8", "x": 643.7, "x1": 650.2, "x2": 683.8, "y": 39.61},
      {"s": "nrg_0910_64g.md", "label": "'nrg_0910_64g.md' u 1:8", "x": 643.7, "x1": 650.2, "x2": 683.8, "y": 38.23},
      {"s": "nrg_0910_44d.md", "label": "'nrg_0910_44d.md' u 1:8", "x": 643.7, "x1": 650.2, "x2": 683.8, "y": 36.86}
    ]},
    "layer": [
      {
        "mark": {"type": "text", "font": "DejaVu Sans Mono", "fontSize": 11, "color": "#000000", "align": "right", "baseline": "middle"},
        "encoding": {
          "x": {"field": "x", "type": "quantitative", "title": null, "axis": {"orient": "top", "labels": false, "values": [0,100,200,300,400,500,600,700]}},
          "y": {"field": "y", "type": "quantitative", "title": null, "axis": {"orient": "right", "labels": false, "values": [0,5,10,15,20,25,30,35,40,45]}},
          "text": {"field": "label"}
        }
      },
      {
        "mark": {"type": "rule", "strokeWidth": 1.3},
        "encoding": {
          "x": {"field": "x1", "type": "quantitative", "axis": null},
          "x2": {"field": "x2"},
          "y": {"field": "y", "type": "quantitative", "axis": null},
          "color": {"field": "s", "type": "nominal", "legend": null,
            "scale": {"domain": ["nrg_0910_44e.md","nrg_0910_44f.md","nrg_0910_44b.md","nrg_0910_64f.md","nrg_0910_64g.md","nrg_0910_44d.md"],
                      "range": ["#ff0000","#00ff00","#0000ff","#ff00ff","#00ffff","#a0522d"]}}
        }
      }
    ]
  },
  {
    "data": {"values": [{"x": 17.5, "y": 40.0, "t": "QOs"}]},
    "mark": {"type": "text", "font": "Liberation Serif", "fontSize": 42, "color": "#0000ff", "align": "left", "baseline": "alphabetic"},
    "encoding": {
      "x": {"field": "x", "type": "quantitative", "axis": null},
      "y": {"field": "y", "type": "quantitative", "axis": null},
      "text": {"field": "t"}
    }
  },
  {
    "data": {"values": [{"x": 27, "y": 22.5, "t": "40j"}]},
    "mark": {"type": "text", "font": "Liberation Serif", "fontSize": 29, "color": "#000000", "align": "left", "baseline": "alphabetic"},
    "encoding": {
      "x": {"field": "x", "type": "quantitative", "axis": null},
      "y": {"field": "y", "type": "quantitative", "axis": null},
      "text": {"field": "t"}
    }
  },
  {
    "data": {"values": [{"x": 142, "y": 0.45, "t": "γ(w,7x) almost tube-indep"}]},
    "mark": {"type": "text", "font": "Liberation Serif", "fontSize": 31, "color": "#000000", "align": "left", "baseline": "alphabetic"},
    "encoding": {
      "x": {"field": "x", "type": "quantitative", "axis": null},
      "y": {"field": "y", "type": "quantitative", "axis": null},
      "text": {"field": "t"}
    }
  },
  {
    "data": {"values": [
      {"x": 615.5, "y": 33.75, "t": "w7x,1"},
      {"x": 615.5, "y": 31.37, "t": "w7x,2"},
      {"x": 615.5, "y": 28.99, "t": "w7x,3"},
      {"x": 615.5, "y": 26.71, "t": "40j,1"},
      {"x": 615.5, "y": 24.42, "t": "40j,2"},
      {"x": 615.5, "y": 22.04, "t": "40j,3"}
    ]},
    "mark": {"type": "text", "font": "Liberation Serif", "fontSize": 20, "align": "left", "baseline": "alphabetic"},
    "encoding": {
      "x": {"field": "x", "type": "quantitative", "axis": null},
      "y": {"field": "y", "type": "quantitative", "axis": null},
      "text": {"field": "t"},
      "color": {"field": "t", "type": "nominal", "legend": null,
        "scale": {"domain": ["w7x,1","w7x,2","w7x,3","40j,1","40j,2","40j,3"],
                  "range": ["#ff0000","#92d050","#0000ff","#ff00ff","#00b0f0","#c6864a"]}}
    }
  },
  {
    "data": {"values": [
      {"x": 30.3, "y": 22.77, "x2": 56.3, "y2": 17.38},
      {"x": 58.2, "y": 19.02, "x2": 56.3, "y2": 17.38},
      {"x": 41.3, "y": 18.43, "x2": 56.3, "y2": 17.38},
      {"x": 129.3, "y": 2.31, "x2": 93.0, "y2": 3.38},
      {"x": 112.3, "y": 3.84, "x2": 93.0, "y2": 3.38},
      {"x": 104.0, "y": 2.1, "x2": 93.0, "y2": 3.38}
    ]},
    "mark": {"type": "rule", "color": "#000000", "strokeWidth": 2.2},
    "encoding": {
      "x": {"field": "x", "type": "quantitative", "axis": null},
      "y": {"field": "y", "type": "quantitative", "axis": null},
      "x2": {"field": "x2"},
      "y2": {"field": "y2"}
    }
  },
  {
    "data": {"values": [{"x": 66.0, "y": 15.0}]},
    "mark": {"type": "point", "shape": "circle", "size": 1520, "filled": false, "stroke": "#3cb83c", "color": "#3cb83c", "strokeWidth": 5, "opacity": 1},
    "encoding": {
      "x": {"field": "x", "type": "quantitative", "axis": null},
      "y": {"field": "y", "type": "quantitative", "axis": null}
    }
  },
  {
    "data": {"values": [{"x": 62.8, "y": 3.52}]},
    "mark": {"type": "point", "shape": "M -1 0 C -1 -0.127 -0.552 -0.23 0 -0.23 C 0.552 -0.23 1 -0.127 1 0 C 1 0.127 0.552 0.23 0 0.23 C -0.552 0.23 -1 0.127 -1 0 Z",
             "size": 2304, "filled": false, "stroke": "#ff0000", "color": "#ff0000", "strokeWidth": 4.5, "opacity": 1},
    "encoding": {
      "x": {"field": "x", "type": "quantitative", "axis": null},
      "y": {"field": "y", "type": "quantitative", "axis": null}
    }
  }
],
"resolve": {"scale": {"color": "independent"}}
}
